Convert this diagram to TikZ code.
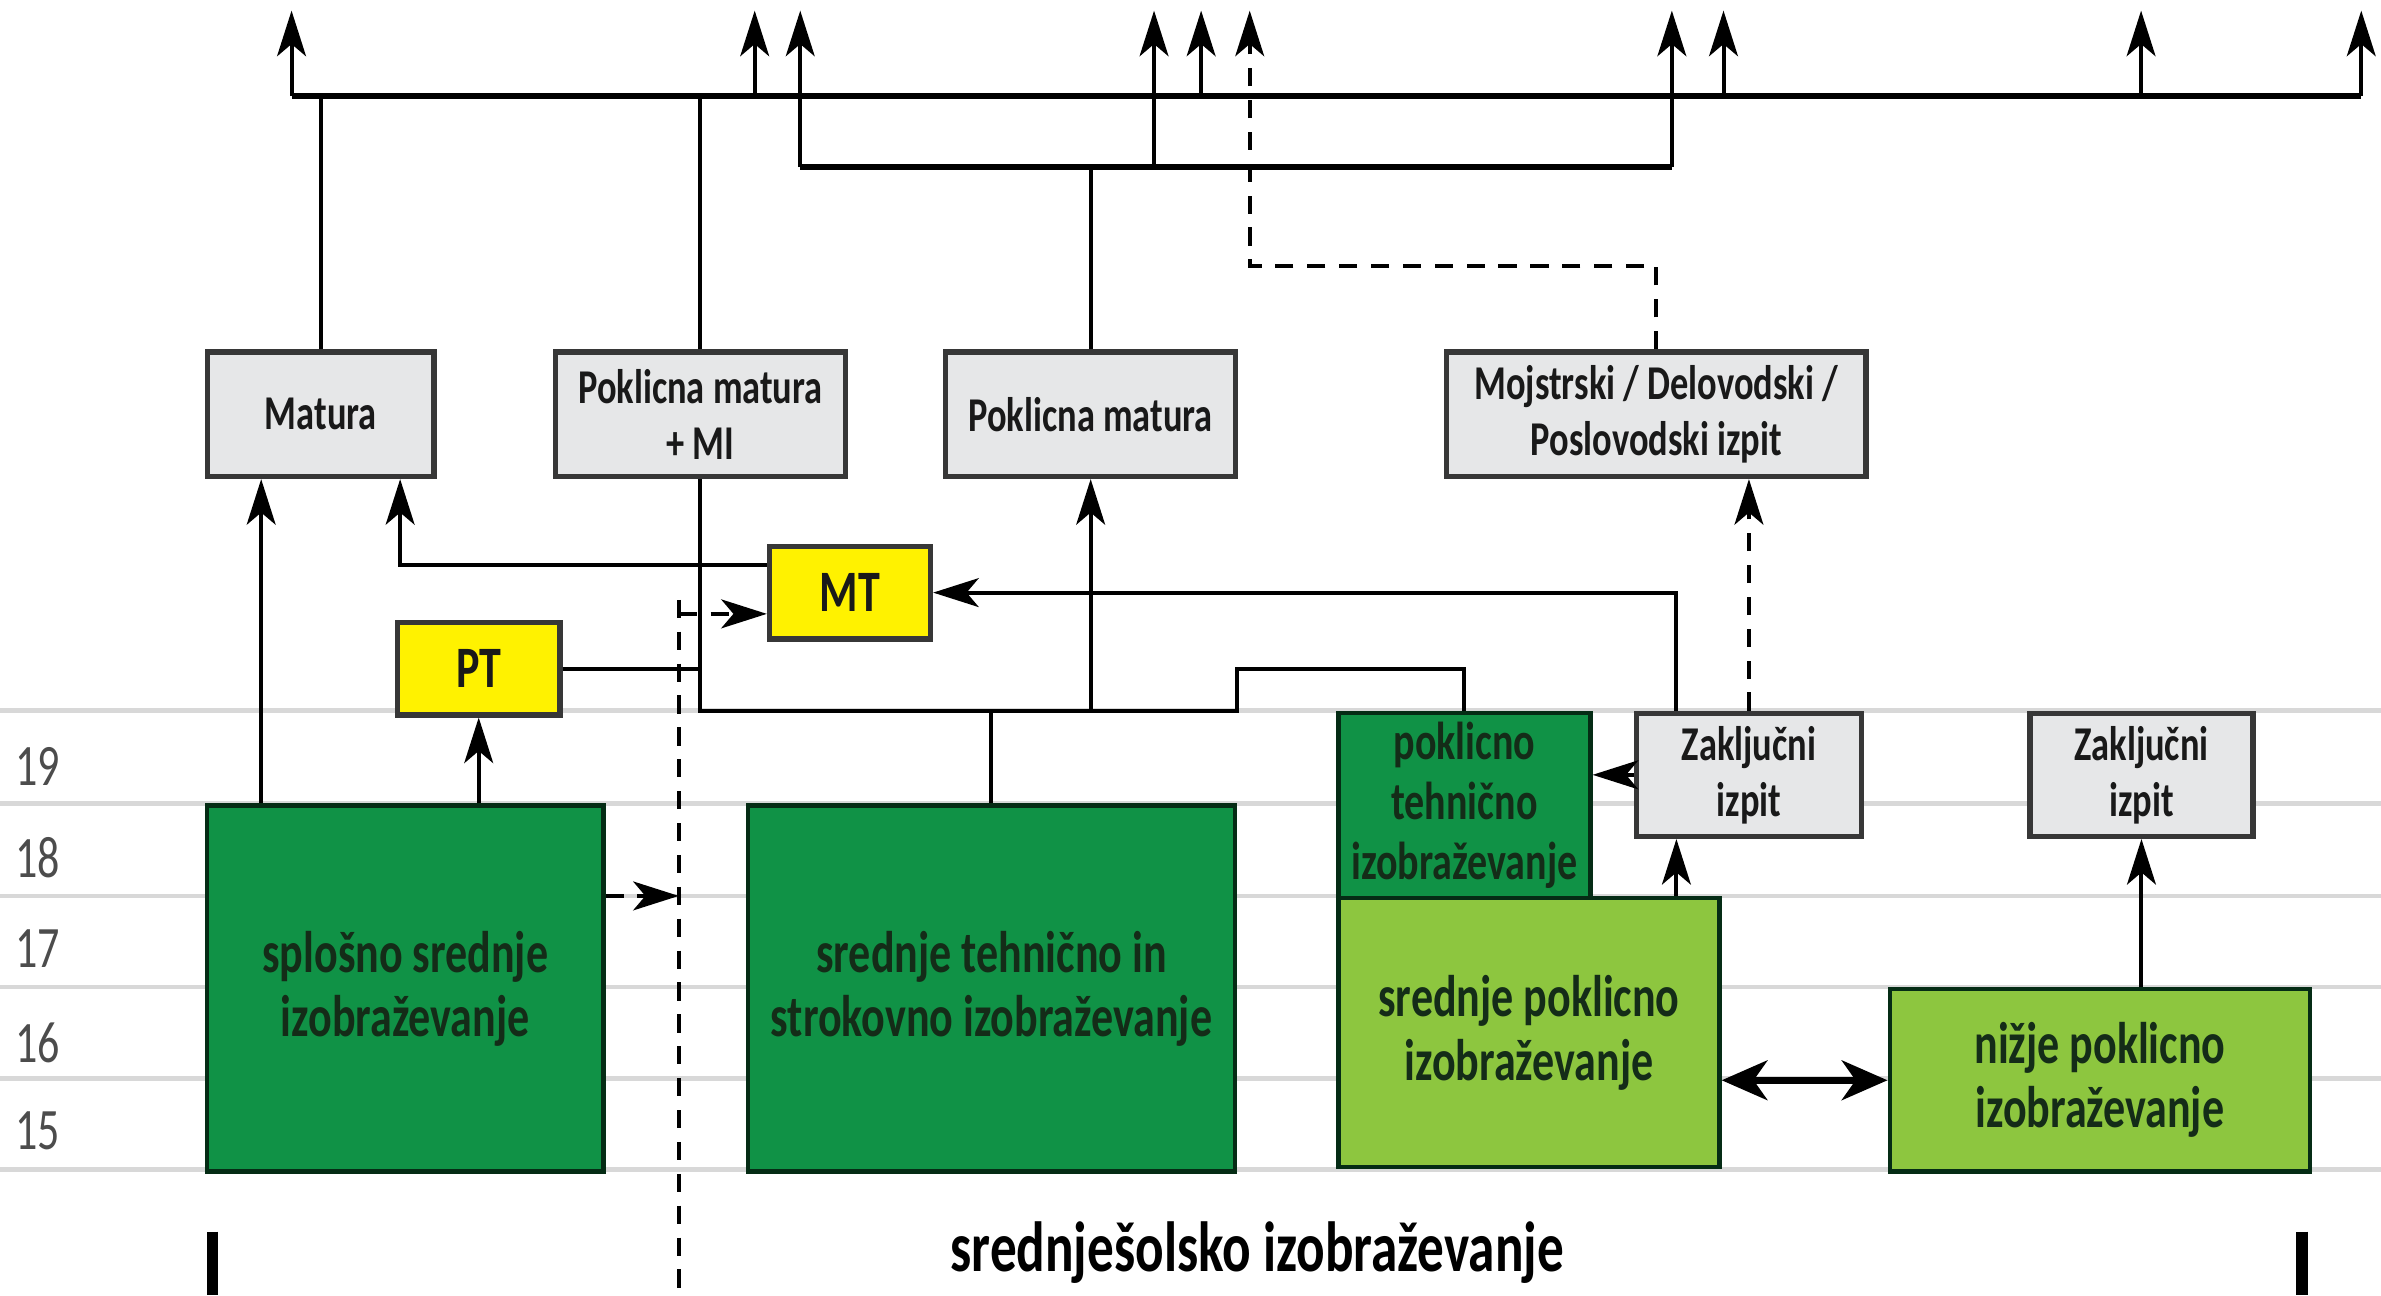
\documentclass[tikz,border=0pt]{standalone}
\usepackage{fontspec}
\setmainfont{Carlito}[FakeStretch=0.75]
\usetikzlibrary{arrows.meta}

\definecolor{examgray}{RGB}{230,231,232}
\definecolor{boxline}{RGB}{55,55,55}
\definecolor{darkgreen}{RGB}{16,146,70}
\definecolor{lightgreen}{RGB}{141,198,63}
\definecolor{markyellow}{RGB}{255,242,0}
\definecolor{gridgray}{RGB}{216,216,216}
\definecolor{greentext}{RGB}{20,44,24}

\tikzstyle{conn} = [draw, line width=0.75pt]
\tikzstyle{tip} = [-{Stealth[length=3mm,width=1.9mm,inset=0.8mm]}]
\tikzstyle{line} = [conn, tip]
\tikzstyle{dashline} = [conn, dash pattern=on 1.2mm off 0.9mm]
\tikzstyle{grid} = [draw=gridgray, line width=0.9pt]
\tikzstyle{age} = [text=black!70, font=\fontsize{11}{13}\selectfont]
\tikzstyle{exam} = [draw=boxline, fill=examgray, line width=1pt, inner sep=0pt, anchor=north west, align=center, text=black!90, font=\bfseries\fontsize{9.1}{10.5}\selectfont]
\tikzstyle{yellowbox} = [exam, fill=markyellow, font=\bfseries\fontsize{11}{13}\selectfont]
\tikzstyle{school} = [draw=black!70!darkgreen, line width=0.8pt, inner sep=0pt, anchor=north west, align=center, text=greentext, font=\bfseries\fontsize{11}{12}\selectfont]

\begin{document}
\begin{tikzpicture}[x=0.1mm, y=-0.1mm]
	\useasboundingbox (0,0) rectangle (1568,853);
	
	%age grid
	\foreach \y in {468,529,590,650,710,770}
		\draw[grid] (0,\y) -- (1568,\y);
	\foreach \a/\y in {19/505,18/565,17/625,16/687,15/745}
		\node[age] (age\a) at (25,\y) {\a};
	
	%exams
	\node[exam, minimum width=14.9mm, minimum height=8.2mm] (matura) at (135,230) {Matura};
	\node[exam, minimum width=19.1mm, minimum height=8.2mm] (pmmi) at (364,230) {Poklicna matura\\+ MI};
	\node[exam, minimum width=19.1mm, minimum height=8.2mm] (pm) at (621,230) {Poklicna matura};
	\node[exam, minimum width=27.6mm, minimum height=8.2mm] (mojs) at (951,230) {Mojstrski / Delovodski /\\Poslovodski izpit};
	\node[yellowbox, minimum width=10.6mm, minimum height=6.1mm] (mt) at (505,358) {MT};
	\node[yellowbox, minimum width=10.7mm, minimum height=6.1mm] (pt) at (260,408) {PT};
	\node[exam, minimum width=14.8mm, minimum height=8.1mm] (zak1) at (1076,468) {Zaključni\\izpit};
	\node[exam, minimum width=14.7mm, minimum height=8.1mm] (zak2) at (1335,468) {Zaključni\\izpit};
	
	%programmes
	\node[school, fill=darkgreen, minimum width=16.6mm, minimum height=12.2mm, font=\bfseries\fontsize{10}{11.3}\selectfont] (ptiz) at (880,468) {poklicno\\tehnično\\izobraževanje};
	\node[school, fill=darkgreen, minimum width=26.1mm, minimum height=24.1mm] (ssi) at (135,529) {splošno srednje\\izobraževanje};
	\node[school, fill=darkgreen, minimum width=32.1mm, minimum height=24.1mm] (sts) at (491,529) {srednje tehnično in\\strokovno izobraževanje};
	\node[school, fill=lightgreen, minimum width=25.1mm, minimum height=17.7mm] (spi) at (880,590) {srednje poklicno\\izobraževanje};
	\node[school, fill=lightgreen, minimum width=27.7mm, minimum height=12mm] (npi) at (1243,650) {nižje poklicno\\izobraževanje};
	
	\node[font=\bfseries\fontsize{13.3}{15}\selectfont] (level) at (828,825) {srednješolsko izobraževanje};
	\draw[line width=0.75mm] (140,811) -- (140,853);
	\draw[line width=0.75mm] (1516,811) -- (1516,853);
	
	%top buses
	\coordinate (bus) at (192,63);
	\coordinate (bus2) at (527,110);
	\coordinate (join) at (pmmi.south |- ptiz.north);
	\coordinate (step) at (sts.north east |- pt.east);
	\coordinate (dashtop) at (447,395);
	\coordinate (dashturn) at (823,175);
	\draw[conn, line width=1.1pt] (bus) -- (1555,63);
	\draw[conn, line width=1.1pt] (bus2) -- (1101,110);
	\foreach \x in {192,497,791,1135,1410,1555}
		\draw[line] (\x,63) -- (\x,7);
	\foreach \x in {527,760,1101}
		\draw[line] (\x,110) -- (\x,7);
	\draw[conn] (matura.north) -- (matura.north |- bus);
	\draw[conn] (pmmi.north) -- (pmmi.north |- bus);
	\draw[conn] (pm.north) -- (pm.north |- bus2);
	\draw[dashline, tip] (mojs.north) |- (dashturn) -- (dashturn |- 0,7);
	
	%links
	\draw[conn] (pmmi.south) -- (join) -| (step) -| (ptiz.north);
	\draw[conn] (pt.east) -- (pt.east -| join);
	\draw[conn] (sts.north) -- (sts.north |- join);
	\draw[line] (pm.south |- join) -- (pm.south);
	\draw[line] ([xshift=3.7mm]ssi.north west) -- ([xshift=3.7mm]matura.south west);
	\draw[line] (pt.south |- ssi.north) -- (pt.south);
	\draw[line] ([yshift=-1.4mm]mt.north west) -| ([xshift=-2.4mm]matura.south east);
	\draw[line] ([xshift=2.8mm]zak1.north west) |- (mt.east);
	\draw[dashline] (dashtop) -- (447,853);
	\draw[dashline, tip] ([yshift=-1.4mm]mt.west -| dashtop) -- ([yshift=-1.4mm]mt.west);
	\draw[dashline, tip] ([yshift=-6.1mm]ssi.north east) -- ([yshift=-6.1mm]ssi.north east -| dashtop);
	\draw[line] (zak1.west) -- (zak1.west -| ptiz.east);
	\draw[line] ([xshift=2.8mm]zak1.south west |- spi.north) -- ([xshift=2.8mm]zak1.south west);
	\draw[dashline, tip] (zak1.north) -- (zak1.north |- mojs.south);
	\draw[line] (zak2.south |- npi.north) -- (zak2.south);
	\draw[conn, line width=1.4pt, {Stealth[length=3mm,width=2.6mm,inset=0.9mm]}-{Stealth[length=3mm,width=2.6mm,inset=0.9mm]}] (npi.west -| spi.east) -- (npi.west);
\end{tikzpicture}
\end{document}
